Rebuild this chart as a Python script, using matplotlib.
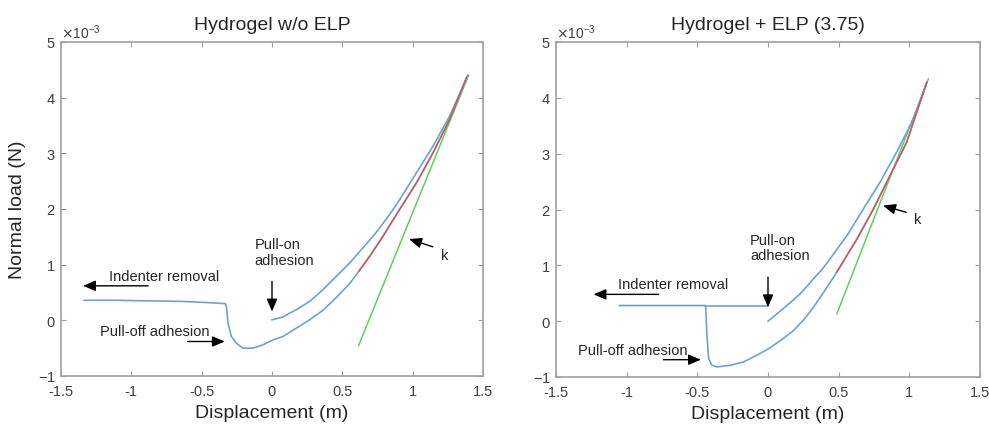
import matplotlib
matplotlib.use("Agg")
import matplotlib.pyplot as plt
from matplotlib.ticker import ScalarFormatter

plt.rcParams['font.family'] = ['Liberation Sans', 'DejaVu Sans']

SCALE = 1e-3  # values below are in units of 1e-3 N

# ---------------- Left panel: Hydrogel w/o ELP ----------------
L_load_x = [0.0, 0.078, 0.125, 0.173, 0.268, 0.362, 0.457, 0.505, 0.552, 0.646, 0.741, 0.836, 0.908, 1.027, 1.145, 1.263, 1.392]
L_load_y = [0.01, 0.06, 0.13, 0.19, 0.34, 0.55, 0.79, 0.91, 1.03, 1.30, 1.58, 1.90, 2.17, 2.65, 3.13, 3.67, 4.40]

L_unload_x = [1.392, 1.263, 1.145, 1.027, 0.908, 0.79, 0.70, 0.619, 0.552, 0.457, 0.362, 0.268, 0.173, 0.078, 0.0,
              -0.064, -0.135, -0.206, -0.253, -0.289, -0.313, -0.324, -0.332, -0.395, -0.632, -0.90, -1.106, -1.336]
L_unload_y = [4.40, 3.61, 3.01, 2.47, 1.995, 1.515, 1.17, 0.886, 0.66, 0.41, 0.18, 0.01, -0.14, -0.29, -0.36,
              -0.44, -0.50, -0.50, -0.41, -0.29, -0.05, 0.25, 0.30, 0.31, 0.34, 0.35, 0.36, 0.36]

L_fit_x = [0.619, 0.70, 0.79, 0.908, 1.027, 1.145, 1.263, 1.382]
L_fit_y = [0.886, 1.17, 1.515, 1.995, 2.47, 3.01, 3.61, 4.36]

L_k_x = [0.616, 1.397]
L_k_y = [-0.45, 4.40]

# ---------------- Right panel: Hydrogel + ELP (3.75) ----------------
R_load_x = [0.0, 0.086, 0.18, 0.227, 0.275, 0.322, 0.38, 0.44, 0.558, 0.675, 0.793, 0.911, 1.029, 1.10, 1.124]
R_load_y = [0.0, 0.18, 0.38, 0.49, 0.62, 0.76, 0.92, 1.12, 1.53, 2.01, 2.49, 3.03, 3.62, 4.10, 4.28]

R_unload_x = [1.124, 1.076, 0.982, 0.864, 0.746, 0.629, 0.487, 0.40, 0.322, 0.251, 0.18, 0.086, 0.0, -0.079, -0.173,
              -0.267, -0.362, -0.397, -0.42, -0.432, -0.44, -0.444, -0.60, -0.80, -1.052]
R_unload_y = [4.28, 3.92, 3.21, 2.61, 2.01, 1.47, 0.88, 0.54, 0.25, 0.02, -0.17, -0.35, -0.50, -0.61, -0.73,
              -0.79, -0.82, -0.79, -0.67, -0.26, 0.22, 0.28, 0.28, 0.28, 0.28]

R_approach_x = [-0.444, 0.0]
R_approach_y = [0.28, 0.28]

R_fit_x = [0.487, 0.629, 0.746, 0.864, 0.982, 1.076, 1.124]
R_fit_y = [0.88, 1.47, 2.01, 2.61, 3.21, 3.92, 4.28]

R_k_x = [0.487, 1.135]
R_k_y = [0.13, 4.34]

titles = ["Hydrogel w/o ELP", "Hydrogel + ELP (3.75)"]
xticks = [-1.5, -1, -0.5, 0, 0.5, 1, 1.5]
xticklabels = ["-1.5", "-1", "-0.5", "0", "0.5", "1", "1.5"]
yticks = [-1, 0, 1, 2, 3, 4, 5]

BLUE = "#6aa5cc"
RED = "#d0575a"
GREEN = "#5fcf5f"
FRAME = "#a0a0a0"
TXT = "#262626"

fig = plt.figure(figsize=(9.89, 4.27), dpi=100)
axL = fig.add_axes([61/989, 50/427, 422/989, 334/427])
axR = fig.add_axes([556/989, 49/427, 424/989, 335/427])

def s(v):
    return [a * SCALE for a in v]

def style(ax, title):
    ax.set_xlim(-1.5, 1.5)
    ax.set_ylim(-1 * SCALE, 5 * SCALE)
    ax.set_xticks(xticks)
    ax.set_xticklabels(xticklabels)
    ax.set_yticks(s(yticks))
    fmt = ScalarFormatter(useMathText=True)
    fmt.set_powerlimits((0, 0))
    ax.yaxis.set_major_formatter(fmt)
    ax.yaxis.get_offset_text().set_fontsize(10)
    ax.yaxis.get_offset_text().set_color("#404040")
    for sp in ax.spines.values():
        sp.set_color(FRAME)
        sp.set_linewidth(1.2)
    ax.tick_params(direction="in", length=3.5, width=0.8, color=FRAME,
                   labelsize=10.5, labelcolor="#404040", top=True, right=True)
    ax.tick_params(axis="x", pad=6)
    ax.tick_params(axis="y", pad=4)
    ax.set_title(title, fontsize=14, color=TXT, pad=9)
    ax.set_xlabel("Displacement (m)", fontsize=14, color=TXT, labelpad=4)

def arrow(ax, x0, y0, x1, y1):
    ax.annotate("", xy=(x1, y1 * SCALE), xytext=(x0, y0 * SCALE),
                arrowprops=dict(arrowstyle="-|>,head_length=0.75,head_width=0.32",
                                color="black", lw=1.0, shrinkA=0, shrinkB=0))

def txt(ax, x, y, t, **kw):
    ax.text(x, y * SCALE, t, fontsize=10.5, color=TXT, **kw)

# Left
axL.plot(L_k_x, s(L_k_y), color=GREEN, lw=1.1)
axL.plot(L_load_x, s(L_load_y), color=BLUE, lw=1.2)
axL.plot(L_unload_x, s(L_unload_y), color=BLUE, lw=1.2)
axL.plot(L_fit_x, s(L_fit_y), color=RED, lw=1.1)
style(axL, titles[0])
axL.set_ylabel("Normal load (N)", fontsize=14, color=TXT, labelpad=8)
txt(axL, -0.77, 0.80, "Indenter removal", ha="center", va="center")
arrow(axL, -0.88, 0.62, -1.343, 0.62)
txt(axL, -0.125, 1.23, "Pull-on\nadhesion", ha="left", va="center", linespacing=1.15)
arrow(axL, 0.0, 0.70, 0.0, 0.16)
txt(axL, -0.83, -0.20, "Pull-off adhesion", ha="center", va="center")
arrow(axL, -0.60, -0.38, -0.336, -0.38)
txt(axL, 1.227, 1.18, "k", ha="center", va="center")
arrow(axL, 1.144, 1.32, 0.975, 1.46)

# Right
axR.plot(R_k_x, s(R_k_y), color=GREEN, lw=1.1)
axR.plot(R_load_x, s(R_load_y), color=BLUE, lw=1.2)
axR.plot(R_unload_x, s(R_unload_y), color=BLUE, lw=1.2)
axR.plot(R_approach_x, s(R_approach_y), color=BLUE, lw=1.2)
axR.plot(R_fit_x, s(R_fit_y), color=RED, lw=1.1)
style(axR, titles[1])
txt(axR, -0.67, 0.66, "Indenter removal", ha="center", va="center")
arrow(axR, -0.774, 0.48, -1.234, 0.48)
txt(axR, -0.128, 1.32, "Pull-on\nadhesion", ha="left", va="center", linespacing=1.15)
arrow(axR, 0.0, 0.79, 0.0, 0.25)
txt(axR, -0.96, -0.51, "Pull-off adhesion", ha="center", va="center")
arrow(axR, -0.74, -0.69, -0.475, -0.69)
txt(axR, 1.06, 1.83, "k", ha="center", va="center")
arrow(axR, 0.977, 1.95, 0.815, 2.07)

fig.savefig("out.png", dpi=100)
